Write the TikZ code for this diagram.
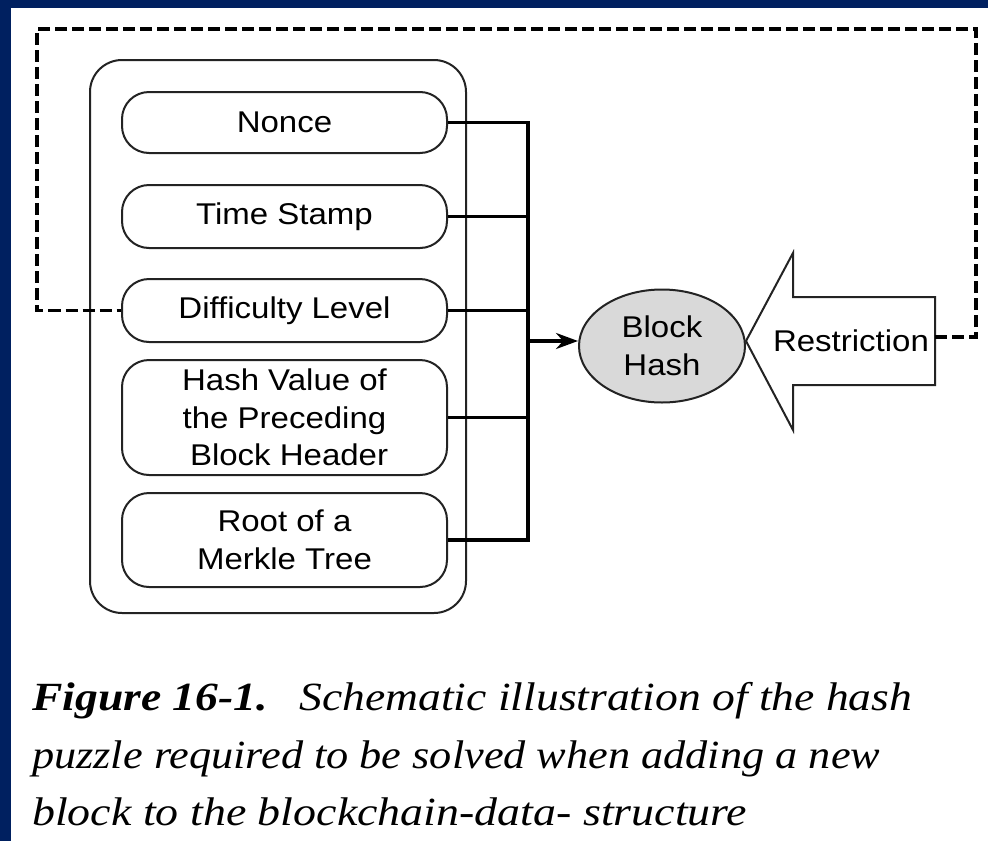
\documentclass[tikz,border=0pt]{standalone}
\usepackage{fontspec}
\setmainfont[FakeStretch=1.1]{Liberation Sans}
\newfontfamily\capfont{Liberation Serif}
\usetikzlibrary{arrows.meta,shapes.geometric}
\definecolor{navy}{RGB}{0,32,96}
\definecolor{hashgray}{RGB}{217,217,217}
\definecolor{ink}{RGB}{35,35,35}
\tikzset{
  field/.style={draw=ink, line width=2pt, rounded corners=27pt, minimum width=325pt, align=center, inner sep=0pt, font=\fontsize{30}{37.5}\selectfont},
  busline/.style={draw=black, line width=3.5pt},
  loopline/.style={draw=black, line width=3.5pt, dash pattern=on 12pt off 5pt},
  captext/.style={anchor=base west, inner sep=0pt, font=\capfont\fontsize{40}{48}\selectfont\itshape}
}
\begin{document}
\begin{tikzpicture}[x=1pt,y=-1pt]
\useasboundingbox (0,0) rectangle (988,841);
\fill[navy] (0,0) rectangle (988,841);
\fill[white] (11,8) rectangle (988,841);

% outer container
\node[draw=ink, line width=2pt, rounded corners=32pt, minimum width=376pt, minimum height=553pt, inner sep=0pt] (outer) at (278,336.5) {};

% fields
\node[field, minimum height=61pt] (nonce) at (284.5,122.5) {Nonce};
\node[field, minimum height=63pt] (time) at (284.5,216.5) {Time Stamp};
\node[field, minimum height=63pt] (diff) at (284.5,310.5) {Difficulty Level};
\node[field, minimum height=115pt] (prev) at (284.5,417.5) {Hash Value of\\the Preceding\\\ Block Header};
\node[field, minimum height=94pt] (root) at (284.5,540) {Root of a\\Merkle Tree};

% bus
\coordinate (bustop) at (528,122.5);
\coordinate (busbot) at (528,540);
\coordinate (busout) at (528,341);
\draw[busline, line cap=rect] (bustop) -- (busbot);
\foreach \n in {nonce,time,diff,prev,root}{
  \draw[busline] (\n.east) -- (\n.east -| bustop);
}

% block hash
\node[ellipse, draw=ink, line width=2pt, fill=hashgray, minimum width=166pt, minimum height=113pt, inner sep=0pt, align=center, font=\fontsize{30}{38.5}\selectfont] (hash) at (662,346) {Block\\Hash};
\draw[busline, -{Stealth[length=22pt,width=16pt]}] (busout) -- (busout -| hash.west);

% restriction arrow
\coordinate (tip) at (746,341);
\coordinate (tail) at (935,341);
\draw[ink, line width=2pt, line join=miter] (tip) -- (793,253) -- (793,297) -- (935,297) -- (tail) -- (935,385) -- (793,385) -- (793,430) -- cycle;
\node[font=\fontsize{30}{32}\selectfont, inner sep=0pt] (restr) at (851,341) {Restriction};

% dashed feedback loop
\coordinate (tr) at (976,29);
\coordinate (tl) at (37,29);
\draw[loopline] (tail |- 0,337) -- (976,337) -- (tr) -- (tl) -- (tl |- diff.west) -- (diff.west);

% caption
\node[captext] (cap1) at (32,710) {\resizebox{880pt}{\height}{\textbf{Figure 16-1.}\hspace{0.7em}Schematic illustration of the hash}};
\node[captext] (cap2) at (32,768) {\resizebox{848pt}{\height}{puzzle required to be solved when adding a new}};
\node[captext] (cap3) at (32,825) {\resizebox{715pt}{\height}{block to the blockchain-data- structure}};
\end{tikzpicture}
\end{document}
